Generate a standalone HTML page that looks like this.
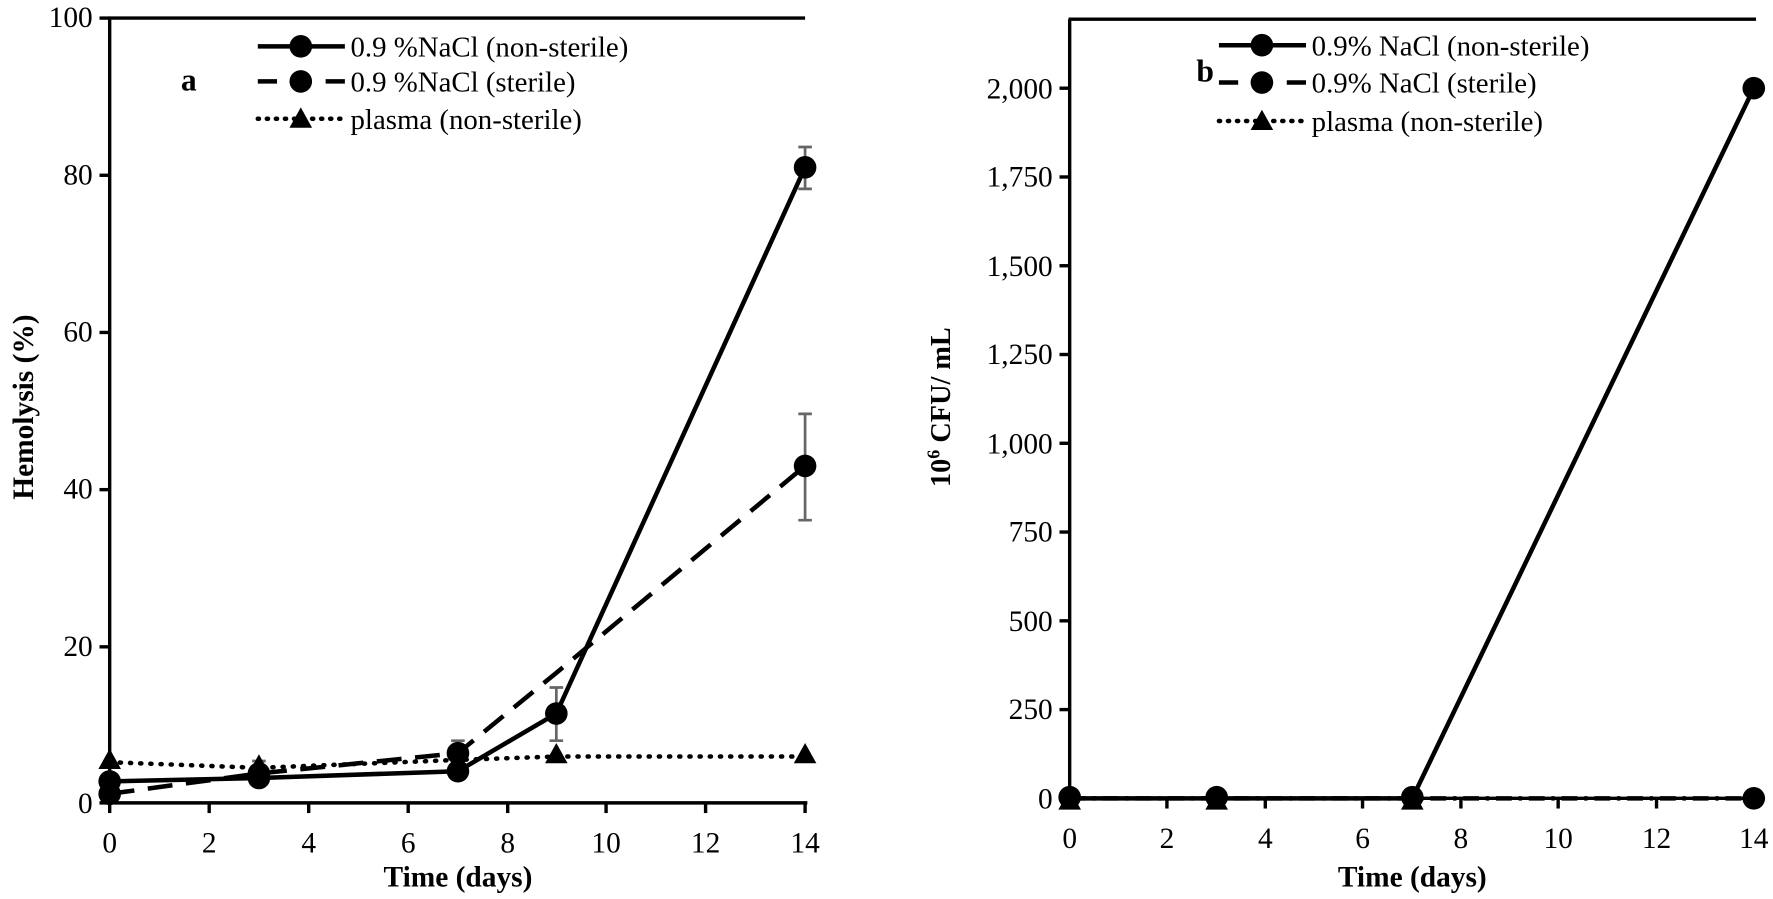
<!DOCTYPE html>
<html><head><meta charset="utf-8"><style>
html,body{margin:0;padding:0;background:#fff;}
svg{display:block;font-family:"Liberation Serif",serif;}
</style></head><body>
<svg width="1773" height="899" viewBox="0 0 1568 795" preserveAspectRatio="none" xmlns="http://www.w3.org/2000/svg">
<!-- Chart a -->
<g fill="none" stroke="#000" stroke-width="3">
<line x1="97" y1="16" x2="97" y2="712"/>
<line x1="96" y1="16" x2="712" y2="16"/>
<line x1="88" y1="710" x2="714" y2="710"/>
<line x1="88" y1="16" x2="97" y2="16"/><line x1="88" y1="155" x2="97" y2="155"/><line x1="88" y1="294" x2="97" y2="294"/><line x1="88" y1="433" x2="97" y2="433"/><line x1="88" y1="572" x2="97" y2="572"/>
<line x1="97" y1="710" x2="97" y2="719"/><line x1="185" y1="710" x2="185" y2="719"/><line x1="273" y1="710" x2="273" y2="719"/><line x1="361" y1="710" x2="361" y2="719"/><line x1="449" y1="710" x2="449" y2="719"/><line x1="536" y1="710" x2="536" y2="719"/><line x1="624" y1="710" x2="624" y2="719"/><line x1="712" y1="710" x2="712" y2="719"/>
</g>
<g font-size="26" text-anchor="end" fill="#000">
<text x="82" y="24">100</text><text x="82" y="163">80</text><text x="82" y="302">60</text><text x="82" y="441">40</text><text x="82" y="580">20</text><text x="82" y="719">0</text>
</g>
<g font-size="26" text-anchor="middle">
<text x="97" y="754">0</text><text x="185" y="754">2</text><text x="273" y="754">4</text><text x="361" y="754">6</text><text x="449" y="754">8</text><text x="536" y="754">10</text><text x="624" y="754">12</text><text x="712" y="754">14</text>
<text x="405" y="784" font-weight="bold" font-size="26">Time (days)</text>
</g>
<text transform="translate(29,360) rotate(-90)" font-size="26" font-weight="bold" text-anchor="middle">Hemolysis (%)</text>
<!-- error bars -->
<g stroke="#666" stroke-width="2.4" fill="none">
<path d="M492 608V655M486 608H498M486 655H498"/>
<path d="M712 130V167M706 130H718M706 167H718"/>
<path d="M712 366V460M706 366H718M706 460H718"/>
<path d="M405 655V685M399 655H411"/>
<path d="M229 673V690M223 673H235"/>
</g>
<!-- series -->
<polyline points="97,674 229,679 405,672 492,669 712,669" fill="none" stroke="#000" stroke-width="4" stroke-dasharray="1,8" stroke-linecap="round"/>
<polyline points="97,702 229,684 405,666 492,595 712,412" fill="none" stroke="#000" stroke-width="4" stroke-dasharray="22,12"/>
<polyline points="97,691 229,688 405,682 492,631 712,148" fill="none" stroke="#000" stroke-width="4"/>
<g fill="#000">
<circle cx="97" cy="702" r="10"/><circle cx="229" cy="684" r="10"/><circle cx="405" cy="666" r="10"/><circle cx="712" cy="412" r="10"/>
<circle cx="97" cy="691" r="10"/><circle cx="229" cy="688" r="10"/><circle cx="405" cy="682" r="10"/><circle cx="492" cy="631" r="10"/><circle cx="712" cy="148" r="10"/>
<path d="M97 662l-10 18h20z"/><path d="M229 667l-10 18h20z"/><path d="M492 657l-10 18h20z"/><path d="M712 657l-10 18h20z"/>
</g>
<!-- legend a -->
<text x="160" y="80" font-size="28" font-weight="bold">a</text>
<g stroke="#000" stroke-width="4" fill="none">
<line x1="228" y1="41" x2="305" y2="41"/>
<line x1="228" y1="72" x2="305" y2="72" stroke-dasharray="17,13"/>
<line x1="228" y1="105" x2="305" y2="105" stroke-dasharray="1,7" stroke-linecap="round"/>
</g>
<g fill="#000"><circle cx="266" cy="41" r="10"/><circle cx="266" cy="72" r="10"/><path d="M266 95l-10 18h20z"/></g>
<g font-size="25.5"><text x="310" y="50">0.9 %NaCl (non-sterile)</text><text x="310" y="81">0.9 %NaCl (sterile)</text><text x="310" y="114">plasma (non-sterile)</text></g>

<!-- Chart b -->
<g fill="none" stroke="#000" stroke-width="3">
<line x1="946" y1="17" x2="946" y2="708"/>
<line x1="945" y1="17" x2="1553" y2="17"/>
<line x1="937" y1="706" x2="1553" y2="706"/>
<line x1="937" y1="78" x2="946" y2="78"/><line x1="937" y1="156.5" x2="946" y2="156.5"/><line x1="937" y1="235" x2="946" y2="235"/><line x1="937" y1="313.5" x2="946" y2="313.5"/><line x1="937" y1="392" x2="946" y2="392"/><line x1="937" y1="470.5" x2="946" y2="470.5"/><line x1="937" y1="549" x2="946" y2="549"/><line x1="937" y1="627.5" x2="946" y2="627.5"/>
<line x1="946" y1="706" x2="946" y2="715"/><line x1="1032" y1="706" x2="1032" y2="715"/><line x1="1119" y1="706" x2="1119" y2="715"/><line x1="1205" y1="706" x2="1205" y2="715"/><line x1="1292" y1="706" x2="1292" y2="715"/><line x1="1378" y1="706" x2="1378" y2="715"/><line x1="1465" y1="706" x2="1465" y2="715"/><line x1="1551" y1="706" x2="1551" y2="715"/>
</g>
<g font-size="26" text-anchor="end">
<text x="931" y="87">2,000</text><text x="931" y="165">1,750</text><text x="931" y="244">1,500</text><text x="931" y="322">1,250</text><text x="931" y="401">1,000</text><text x="931" y="479">750</text><text x="931" y="558">500</text><text x="931" y="636">250</text><text x="931" y="715">0</text>
</g>
<g font-size="26" text-anchor="middle">
<text x="946" y="750">0</text><text x="1032" y="750">2</text><text x="1119" y="750">4</text><text x="1205" y="750">6</text><text x="1292" y="750">8</text><text x="1378" y="750">10</text><text x="1465" y="750">12</text><text x="1551" y="750">14</text>
<text x="1249" y="784" font-weight="bold" font-size="26">Time (days)</text>
</g>
<text transform="translate(840,360) rotate(-90)" font-size="25" font-weight="bold" text-anchor="middle">10<tspan font-size="16" dy="-9">6</tspan><tspan dy="9">  CFU/ mL</tspan></text>
<polyline points="946,706 1551,706" fill="none" stroke="#000" stroke-width="4" stroke-dasharray="14,6,3,6"/>
<polyline points="946,706 1076,706 1249,706 1551,78" fill="none" stroke="#000" stroke-width="4"/>
<g fill="#000">
<path d="M946 698l-10 18h20z"/><path d="M1076 698l-10 18h20z"/><path d="M1249 698l-10 18h20z"/>
<circle cx="946" cy="705" r="10"/><circle cx="1076" cy="705" r="10"/><circle cx="1249" cy="705" r="10"/><circle cx="1551" cy="706" r="10"/><circle cx="1551" cy="78" r="10"/>
</g>
<!-- legend b -->
<text x="1058" y="72" font-size="28" font-weight="bold">b</text>
<g stroke="#000" stroke-width="4" fill="none">
<line x1="1078" y1="40" x2="1155" y2="40"/>
<line x1="1078" y1="73" x2="1155" y2="73" stroke-dasharray="17,13"/>
<line x1="1078" y1="107" x2="1155" y2="107" stroke-dasharray="1,7" stroke-linecap="round"/>
</g>
<g fill="#000"><circle cx="1116" cy="40" r="10"/><circle cx="1116" cy="73" r="10"/><path d="M1116 97l-10 18h20z"/></g>
<g font-size="25.5"><text x="1160" y="49">0.9% NaCl (non-sterile)</text><text x="1160" y="82">0.9% NaCl (sterile)</text><text x="1160" y="116">plasma (non-sterile)</text></g>
</svg>
</body></html>
